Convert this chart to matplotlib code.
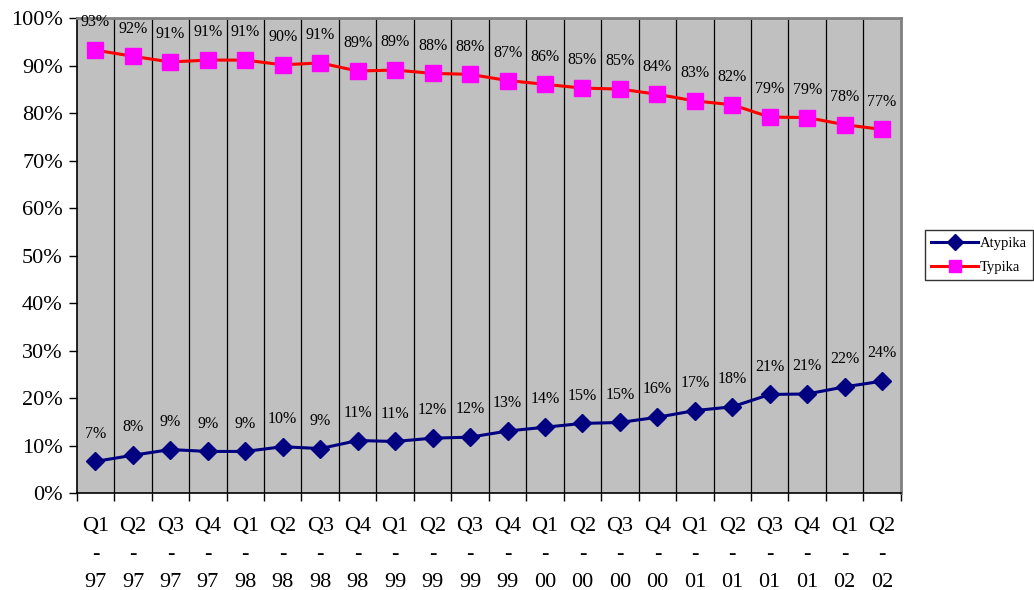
import matplotlib
matplotlib.use("Agg")
import matplotlib.pyplot as plt
import numpy as np

categories = ["Q1\n-\n97", "Q2\n-\n97", "Q3\n-\n97", "Q4\n-\n97",
              "Q1\n-\n98", "Q2\n-\n98", "Q3\n-\n98", "Q4\n-\n98",
              "Q1\n-\n99", "Q2\n-\n99", "Q3\n-\n99", "Q4\n-\n99",
              "Q1\n-\n00", "Q2\n-\n00", "Q3\n-\n00", "Q4\n-\n00",
              "Q1\n-\n01", "Q2\n-\n01", "Q3\n-\n01", "Q4\n-\n01",
              "Q1\n-\n02", "Q2\n-\n02"]
atypika = [6.7, 8.0, 9.2, 8.8, 8.8, 9.8, 9.4, 11.1, 10.9, 11.6, 11.8, 13.1,
           13.9, 14.7, 14.9, 16.0, 17.4, 18.2, 20.8, 20.9, 22.4, 23.6]
typika = [93.3, 92.0, 90.8, 91.2, 91.2, 90.2, 90.6, 88.9, 89.1, 88.4, 88.2, 86.9,
          86.1, 85.3, 85.1, 84.0, 82.6, 81.8, 79.2, 79.1, 77.6, 76.6]
yticks = [0, 10, 20, 30, 40, 50, 60, 70, 80, 90, 100]

plt.rcParams['font.family'] = ['Liberation Serif', 'DejaVu Serif']

fig = plt.figure(figsize=(10.34, 5.9), dpi=100)
ax = fig.add_axes([0.0742, 0.164, 0.797, 0.805])
ax.set_facecolor('#c0c0c0')

x = np.arange(len(categories))
l1, = ax.plot(x, atypika, color='#000080', lw=2.2, marker='D', markersize=9,
              markerfacecolor='#000080', markeredgecolor='#000080', label='Atypika', zorder=3)
l2, = ax.plot(x, typika, color='#ff0000', lw=2.2, marker='s', markersize=11,
              markerfacecolor='#ff00ff', markeredgecolor='#ff00ff', label='Typika', zorder=3)

for xi, v in zip(x, atypika):
    ax.annotate(f"{int(round(v))}%", (xi, v), xytext=(0, 20), textcoords='offset points',
                ha='center', va='center', fontsize=11.5, color='black', zorder=4)
for xi, v in zip(x, typika):
    ax.annotate(f"{int(round(v))}%", (xi, v), xytext=(0, 20), textcoords='offset points',
                ha='center', va='center', fontsize=11.5, color='black', zorder=4,
                annotation_clip=False)

ax.set_xlim(-0.5, len(categories) - 0.5)
ax.set_ylim(0, 100)
ax.set_yticks(yticks)
ax.set_yticklabels([f"{t}%" for t in yticks], fontsize=16)

# category boundaries: vertical lines and ticks
bounds = np.arange(-0.5, len(categories), 1.0)
for b in bounds[1:-1]:
    ax.axvline(b, color='black', lw=0.9, zorder=1)
ax.set_xticks(bounds)
ax.set_xticklabels([])
ax.set_xticks(x, minor=True)
ax.set_xticklabels(categories, minor=True, fontsize=16, linespacing=1.64)
ax.tick_params(axis='x', which='minor', length=0, pad=17)
ax.tick_params(axis='x', which='major', length=6, width=1, direction='out', color='black')
ax.tick_params(axis='y', length=6, width=1, direction='out', color='black', pad=4)

for s in ['top', 'right']:
    ax.spines[s].set_color('#808080')
    ax.spines[s].set_linewidth(2)
for s in ['left', 'bottom']:
    ax.spines[s].set_color('black')
    ax.spines[s].set_linewidth(1.2)

leg = fig.legend(handles=[l1, l2], loc='upper right',
                 bbox_to_anchor=(1033 / 1034, 1 - 230 / 590), frameon=True,
                 fancybox=False, edgecolor='black', fontsize=10.5, handlelength=3.2,
                 borderpad=0.45, labelspacing=0.75, handletextpad=0.1, borderaxespad=0)
leg.get_frame().set_linewidth(1)
for h in leg.legend_handles:
    h.set_markersize(8)

fig.savefig("out.png", dpi=100)
